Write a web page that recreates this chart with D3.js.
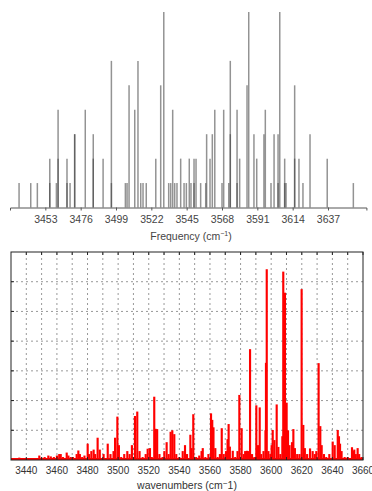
<!DOCTYPE html>
<html>
<head>
<meta charset="utf-8">
<script src="https://cdn.jsdelivr.net/npm/d3@7"></script>
<style>
  html, body { margin: 0; padding: 0; background: #fff; }
  svg { display: block; font-family: "Liberation Sans", Arial, sans-serif; }
</style>
</head>
<body>
<div id="chart"></div>
<script>
// top panel: stick spectrum (frequency, intensity level)
const stickFreq = [3435.9, 3443.5, 3447.8, 3455.9, 3455.9, 3460.2, 3461.3, 3461.3, 3467.1, 3467.1,
  3469.1, 3472.1, 3472.1, 3479.0, 3484.2, 3484.2, 3490.6, 3496.0, 3496.0, 3505.1,
  3506.2, 3507.5, 3511.2, 3513.3, 3515.1, 3516.6, 3518.7, 3524.9, 3528.1, 3530.1,
  3533.3, 3534.6, 3535.9, 3537.2, 3538.7, 3541.1, 3543.3, 3544.8, 3546.7, 3547.8,
  3549.8, 3549.8, 3551.1, 3554.1, 3557.4, 3558.0, 3560.2, 3561.7, 3563.3, 3568.0,
  3569.1, 3572.4, 3573.4, 3573.4, 3577.8, 3577.8, 3579.5, 3584.3, 3585.4, 3588.8,
  3590.6, 3595.3, 3596.2, 3599.9, 3601.9, 3604.5, 3604.5, 3605.6, 3608.8, 3608.8,
  3609.7, 3615.3, 3615.3, 3618.1, 3620.7, 3625.3, 3636.5, 3653.5];
const stickLevel = [1, 1, 1, 2, 1, 1, 4, 2, 2, 1,
  1, 3, 3, 4, 3, 2, 2, 6, 1, 1,
  1, 5, 4, 6, 1, 1, 1, 2, 5, 8,
  1, 1, 4, 1, 1, 2, 1, 1, 2, 1,
  2, 1, 2, 1, 1, 3, 2, 3, 4, 1,
  4, 1, 6, 3, 4, 1, 2, 5, 8, 3,
  2, 3, 4, 1, 3, 3, 1, 8, 2, 1,
  1, 5, 2, 2, 1, 3, 2, 1];
const topTicks = [3453, 3476, 3499, 3522, 3545, 3568, 3591, 3614, 3637];

// bottom panel: red spectrum (wavenumber, intensity)
const peakFreq = [3432, 3434, 3435.4, 3437, 3439, 3440.5, 3442, 3444, 3446, 3448.5,
  3450, 3452, 3454.4, 3456, 3458, 3460, 3461.5, 3462.5, 3464, 3466.4,
  3467.5, 3469, 3470.5, 3472.9, 3474.0, 3475, 3476.5, 3478, 3480.1, 3481,
  3482.5, 3484, 3485, 3486.6, 3488, 3490.5, 3493.2, 3495, 3497, 3498,
  3499.5, 3500.5, 3502, 3504, 3506, 3507.5, 3509, 3511, 3512.5, 3514,
  3516, 3518, 3519.3, 3520.8, 3522, 3523.6, 3524.5, 3525.5, 3527, 3529,
  3530.2, 3531.7, 3533, 3534.3, 3535.4, 3536.7, 3538, 3540, 3542.2, 3543.7,
  3545, 3547.2, 3548, 3549.1, 3551, 3553, 3554.5, 3555.3, 3557, 3559,
  3560.7, 3561.5, 3562.3, 3563.5, 3565, 3566.5, 3567.7, 3569, 3570.5, 3571.5,
  3572.2, 3573, 3574.9, 3576.5, 3578, 3579.2, 3580.7, 3582, 3583, 3584.2,
  3585.2, 3586.2, 3587.5, 3589, 3590.3, 3591.4, 3592.5, 3593.5, 3595, 3596.3,
  3596.6, 3597.1, 3598.2, 3599.5, 3600.3, 3601.0, 3602.1, 3603.6, 3604.7, 3606,
  3607.3, 3607.9, 3609, 3610.1, 3611, 3612, 3613.6, 3614.5, 3615.5, 3617,
  3618.5, 3619.9, 3621.0, 3622, 3623.5, 3625.4, 3627.1, 3628.5, 3629.5, 3631,
  3632.1, 3633, 3634.5, 3636, 3638, 3640.2, 3641.5, 3643.5, 3644.3, 3645,
  3646, 3648, 3650, 3652.8, 3653.6, 3654.3, 3655.3, 3656.5, 3657.5, 3659];
const peakInt = [0.05, 0.03, 0.08, 0.05, 0.04, 0.06, 0.05, 0.03, 0.04, 0.15,
  0.08, 0.1, 0.15, 0.12, 0.1, 0.15, 0.2, 0.2, 0.1, 0.25,
  0.15, 0.1, 0.1, 0.2, 0.32, 0.2, 0.1, 0.15, 0.55, 0.2,
  0.3, 0.35, 0.2, 0.75, 0.35, 0.2, 0.55, 0.2, 0.3, 0.75,
  1.46, 0.5, 0.1, 0.2, 0.3, 0.2, 0.5, 1.48, 1.63, 0.3,
  0.1, 0.2, 0.38, 0.4, 0.1, 2.13, 1.05, 1.04, 0.2, 0.1,
  0.3, 0.6, 0.2, 0.95, 1.0, 0.87, 0.2, 0.1, 0.3, 0.5,
  0.2, 0.85, 0.4, 1.54, 0.1, 0.15, 0.3, 0.4, 0.1, 0.2,
  1.57, 1.35, 1.1, 0.4, 0.1, 0.2, 1.07, 0.2, 0.3, 0.7,
  1.21, 0.45, 0.31, 0.1, 0.3, 2.19, 1.07, 0.2, 0.3, 0.31,
  0.3, 3.73, 0.2, 0.1, 1.84, 0.5, 1.77, 0.2, 0.3, 1.0,
  3.27, 6.42, 0.3, 0.2, 0.5, 1.01, 0.67, 1.87, 0.44, 0.2,
  0.8, 6.34, 5.63, 1.93, 1.0, 0.5, 0.6, 1.04, 0.4, 0.2,
  0.2, 5.75, 1.18, 0.4, 0.2, 0.39, 0.3, 0.2, 0.3, 3.26,
  1.14, 0.5, 0.2, 0.1, 0.2, 0.62, 0.5, 1.01, 0.8, 0.55,
  0.3, 0.1, 0.1, 0.43, 0.3, 0.35, 0.2, 0.4, 0.2, 0.1];
const bottomTicks = [3440, 3450, 3460, 3470, 3480, 3490, 3500, 3510, 3520, 3530, 3540,
  3550, 3560, 3570, 3580, 3590, 3600, 3610, 3620, 3630, 3640, 3650, 3660];
const bottomLabels = [3440, 3460, 3480, 3500, 3520, 3540, 3560, 3580, 3600, 3620, 3640, 3660];
const yGrid = [1, 2, 3, 4, 5, 6];

const width = 372, height = 491;
const svg = d3.select("#chart").append("svg")
  .attr("width", width)
  .attr("height", height);

// ---------- top panel ----------
const xTop = d3.scaleLinear().domain([3430, 3662]).range([10, 366.4]);
const yTop = d3.scaleLinear().domain([0, 8]).range([207.5, 12]);

svg.append("g")
  .attr("stroke", "#3a3a3a")
  .attr("stroke-opacity", 0.55)
  .attr("stroke-width", 1.5)
  .selectAll("line")
  .data(stickFreq)
  .join("line")
  .attr("x1", d => xTop(d))
  .attr("x2", d => xTop(d))
  .attr("y1", yTop(0))
  .attr("y2", (d, i) => yTop(stickLevel[i]));

const axTop = svg.append("g")
  .attr("transform", `translate(0,${yTop(0)})`)
  .call(d3.axisBottom(xTop).tickValues(topTicks).tickSize(3).tickSizeOuter(3).tickFormat(d3.format("d")));
axTop.select(".domain").attr("stroke", "#555");
axTop.selectAll(".tick line").attr("stroke", "#555");
axTop.selectAll(".tick text")
  .attr("fill", "#444")
  .attr("font-size", "10.5px")
  .attr("font-family", "'Liberation Sans', Arial, sans-serif")
  .attr("dy", "0.9em");

const topLabel = svg.append("text")
  .attr("x", 191)
  .attr("y", 240)
  .attr("text-anchor", "middle")
  .attr("fill", "#444")
  .attr("font-size", "10.5px");
topLabel.append("tspan").text("Frequency (cm");
topLabel.append("tspan").attr("dy", -4).attr("font-size", "7px").text("−1");
topLabel.append("tspan").attr("dy", 4).text(")");

// ---------- bottom panel ----------
const x = d3.scaleLinear().domain([3430, 3660]).range([11, 363]);
const y = d3.scaleLinear().domain([0, 7]).range([460, 252]);

// grid
svg.append("g")
  .attr("stroke", "#999")
  .attr("stroke-width", 1)
  .attr("stroke-dasharray", "2,3")
  .selectAll("line")
  .data(bottomTicks.filter(d => d < 3660))
  .join("line")
  .attr("x1", d => x(d)).attr("x2", d => x(d))
  .attr("y1", y(0)).attr("y2", y(7));

svg.append("g")
  .attr("stroke", "#999")
  .attr("stroke-width", 1)
  .attr("stroke-dasharray", "2,3")
  .selectAll("line")
  .data(yGrid)
  .join("line")
  .attr("x1", x(3430)).attr("x2", x(3660))
  .attr("y1", d => y(d)).attr("y2", d => y(d));

// spectrum
svg.append("line")
  .attr("x1", x(3430)).attr("x2", x(3660))
  .attr("y1", y(0.03)).attr("y2", y(0.03))
  .attr("stroke", "#ff0000")
  .attr("stroke-width", 2);

svg.append("g")
  .attr("fill", "#ff0000")
  .selectAll("rect")
  .data(peakFreq)
  .join("rect")
  .attr("x", d => x(d - 0.7))
  .attr("width", d => x(d + 0.7) - x(d - 0.7))
  .attr("y", (d, i) => y(peakInt[i]))
  .attr("height", (d, i) => y(0) - y(peakInt[i]));

// frame + ticks
svg.append("rect")
  .attr("x", x(3430)).attr("y", y(7))
  .attr("width", x(3660) - x(3430)).attr("height", y(0) - y(7))
  .attr("fill", "none")
  .attr("stroke", "#222")
  .attr("stroke-width", 1);

svg.append("g")
  .attr("stroke", "#222")
  .selectAll("line")
  .data(bottomTicks)
  .join("line")
  .attr("x1", d => x(d)).attr("x2", d => x(d))
  .attr("y1", y(7)).attr("y2", y(7) + 3);

svg.append("g")
  .attr("stroke", "#222")
  .selectAll("line")
  .data(bottomTicks)
  .join("line")
  .attr("x1", d => x(d)).attr("x2", d => x(d))
  .attr("y1", y(0)).attr("y2", y(0) - 3);

svg.append("g")
  .attr("stroke", "#222")
  .selectAll("line")
  .data(yGrid)
  .join("line")
  .attr("x1", x(3430)).attr("x2", x(3430) + 3)
  .attr("y1", d => y(d)).attr("y2", d => y(d));

svg.append("g")
  .attr("fill", "#333")
  .attr("font-size", "10px")
  .attr("text-anchor", "middle")
  .selectAll("text")
  .data(bottomLabels)
  .join("text")
  .attr("x", d => x(d))
  .attr("y", 474)
  .text(d => d);

const botLabel = svg.append("text")
  .attr("x", 187)
  .attr("y", 489)
  .attr("text-anchor", "middle")
  .attr("fill", "#333")
  .attr("font-size", "10.5px");
botLabel.append("tspan").text("wavenumbers (cm");
botLabel.append("tspan").attr("dy", -3).attr("font-size", "8px").text("−");
botLabel.append("tspan").attr("dy", 3).text("1)");
</script>
</body>
</html>
